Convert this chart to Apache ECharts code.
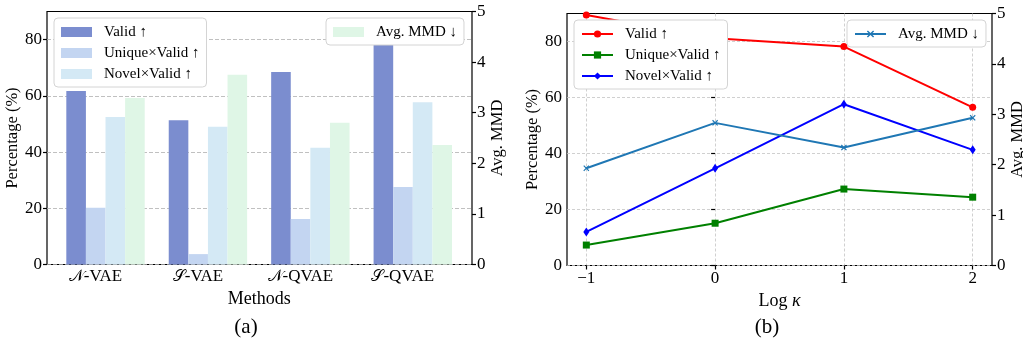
<!DOCTYPE html>
<html><head><meta charset="utf-8">
<script src="https://cdn.jsdelivr.net/npm/echarts@6/dist/echarts.min.js"></script>
<style>html,body{margin:0;padding:0;background:#fff}#c{width:1023px;height:343px}</style>
</head><body><div id="c"></div>
<script>
// ---- data ----
const methods = ['N-VAE', 'S-VAE', 'N-QVAE', 'S-QVAE'];
const barValid = [61.7, 51.3, 68.5, 78.3];
const barUnique = [20.2, 3.7, 16.2, 27.6];
const barNovel = [52.5, 49.0, 41.5, 57.7];
const barMMD = [3.29, 3.75, 2.80, 2.36];
const logKappa = [-1, 0, 1, 2];
const lineValid = [89.5, 81.2, 78.2, 56.5];
const lineUnique = [7.3, 15.1, 27.3, 24.4];
const lineNovel = [12.0, 34.7, 57.6, 41.3];
const lineMMD = [1.93, 2.83, 2.34, 2.93];
const pctTicks = [0, 20, 40, 60, 80];
const mmdTicks = [0, 1, 2, 3, 4, 5];
const kappaTicks = [-1, 0, 1, 2];
const legendLabels = {
  bv: 'Valid ↑', bu: 'Unique×Valid ↑', bn: 'Novel×Valid ↑', bm: 'Avg. MMD ↓',
  lv: 'Valid ↑', lu: 'Unique×Valid ↑', ln: 'Novel×Valid ↑', lm: 'Avg. MMD ↓'
};
const scriptLetters = { N: '𝒩', S: '𝒮' };

// ---- styling ----
const FONT = 'Liberation Serif, DejaVu Serif, serif';
const txt = { fontFamily: FONT, fontSize: 17, color: '#000' };
const nameY = { fontFamily: FONT, fontSize: 16.5, color: '#000' };
const nameX = { fontFamily: FONT, fontSize: 18, color: '#000' };
const tickStyle = { show: true, length: 4, lineStyle: { color: '#000', width: 1.2 } };
const gridDash = { show: true, lineStyle: { color: '#b0b0b0', type: [4, 2], width: 0.8 } };
const gridDot = { show: true, lineStyle: { color: '#c4c4c4', type: [3, 2], width: 0.8 } };
const xMark = 'path://M0,1.4 L1.4,0 L5,3.6 L8.6,0 L10,1.4 L6.4,5 L10,8.6 L8.6,10 L5,6.4 L1.4,10 L0,8.6 L3.6,5 Z';

function pairs(xs, ys) { return xs.map((x, i) => [x, ys[i]]); }
function legendBox(left, top, names, icon, iw, ih) {
  return {
    orient: 'vertical', left: left, top: top, data: names,
    icon: icon, itemWidth: iw, itemHeight: ih, itemGap: 5,
    padding: [6, 7, 5, 7],
    backgroundColor: '#fff', borderColor: '#d4d4d4', borderWidth: 1, borderRadius: 4,
    formatter: n => legendLabels[n],
    textStyle: { fontFamily: FONT, fontSize: 15, color: '#000', lineHeight: 16, padding: [0, 0, 0, 7] }
  };
}

const option = {
  animation: false,
  backgroundColor: '#fff',
  grid: [
    { left: 47, top: 11.5, width: 425, height: 253, show: true, borderColor: '#000', borderWidth: 1.2, outerBoundsMode: 'none' },
    { left: 54.3, top: 11.5, width: 409.7, height: 253, outerBoundsMode: 'none' },
    { left: 567, top: 13.5, width: 425, height: 252, show: true, borderColor: '#000', borderWidth: 1.2, outerBoundsMode: 'none' }
  ],
  xAxis: [
    { gridIndex: 0, type: 'category', data: methods, axisLine: { show: false }, axisTick: { show: false }, axisLabel: { show: false }, splitLine: { show: false } },
    { gridIndex: 1, type: 'category', data: methods, axisLine: { show: false }, axisTick: { show: false },
      axisLabel: { margin: 4, interval: 0, hideOverlap: false, padding: [0, 20, 0, 0], ...txt,
        formatter: v => '{m|' + scriptLetters[v[0]] + '}{t|' + v.slice(1) + '}',
        rich: { m: { fontFamily: 'DejaVu Serif, DejaVu Sans, serif', fontSize: 16, color: '#000' }, t: { ...txt } } },
      name: 'Methods', nameLocation: 'middle', nameGap: 23, nameTextStyle: { ...nameX } },
    { gridIndex: 2, type: 'value', min: -1.15, max: 2.15,
      axisLine: { show: false },
      axisTick: { ...tickStyle, customValues: kappaTicks },
      axisLabel: { ...txt, margin: 5, customValues: kappaTicks, formatter: v => v < 0 ? '\u2212' + (-v) : String(v) },
      splitLine: gridDot,
      name: '{t|Log }{k|κ}', nameLocation: 'middle', nameGap: 23,
      nameTextStyle: { ...nameX, rich: { t: { ...nameX }, k: { ...nameX, fontStyle: 'italic' } } } }
  ],
  yAxis: [
    { gridIndex: 0, type: 'value', min: 0, max: 90, interval: 20, position: 'left',
      axisLine: { show: false },
      axisTick: { ...tickStyle, customValues: pctTicks },
      axisLabel: { ...txt, margin: 5, customValues: pctTicks },
      splitLine: gridDash,
      name: 'Percentage (%)', nameLocation: 'middle', nameRotate: 90, nameGap: 25, nameTextStyle: { ...nameY } },
    { gridIndex: 0, type: 'value', min: 0, max: 5, interval: 1, position: 'right',
      axisLine: { show: false },
      axisTick: { ...tickStyle },
      axisLabel: { ...txt, margin: 5 },
      splitLine: { show: false },
      name: 'Avg. MMD', nameLocation: 'middle', nameRotate: 90, nameGap: 15, nameTextStyle: { ...nameY } },
    { gridIndex: 1, type: 'value', min: 0, max: 90, show: false, splitLine: { show: false } },
    { gridIndex: 1, type: 'value', min: 0, max: 5, show: false, splitLine: { show: false } },
    { gridIndex: 2, type: 'value', min: 0, max: 90, interval: 20, position: 'left',
      axisLine: { show: false },
      axisTick: { ...tickStyle, customValues: pctTicks },
      axisLabel: { ...txt, margin: 5, customValues: pctTicks },
      splitLine: gridDot,
      name: 'Percentage (%)', nameLocation: 'middle', nameRotate: 90, nameGap: 25, nameTextStyle: { ...nameY } },
    { gridIndex: 2, type: 'value', min: 0, max: 5, interval: 1, position: 'right',
      axisLine: { show: false },
      axisTick: { ...tickStyle },
      axisLabel: { ...txt, margin: 5 },
      splitLine: { show: false },
      name: 'Avg. MMD', nameLocation: 'middle', nameRotate: 90, nameGap: 14, nameTextStyle: { ...nameY } }
  ],
  legend: [
    legendBox(54, 18, ['bv', 'bu', 'bn'], 'rect', 31, 10),
    legendBox(326, 18, ['bm'], 'rect', 31, 10),
    legendBox(574, 20, ['lv', 'lu', 'ln'], null, 31, 9),
    legendBox(847, 20, ['lm'], null, 31, 9)
  ],
  series: [
    { name: 'bv', type: 'bar', xAxisIndex: 1, yAxisIndex: 2, data: barValid, barWidth: 19.6, barGap: '0%', itemStyle: { color: '#7b8dcf' } },
    { name: 'bu', type: 'bar', xAxisIndex: 1, yAxisIndex: 2, data: barUnique, barWidth: 19.6, barGap: '0%', itemStyle: { color: '#c3d5f1' } },
    { name: 'bn', type: 'bar', xAxisIndex: 1, yAxisIndex: 2, data: barNovel, barWidth: 19.6, barGap: '0%', itemStyle: { color: '#d4e9f5' } },
    { name: 'bm', type: 'bar', xAxisIndex: 1, yAxisIndex: 3, data: barMMD, barWidth: 19.6, barGap: '0%', itemStyle: { color: '#dff6e6' } },
    { name: 'lv', type: 'line', xAxisIndex: 2, yAxisIndex: 4, data: pairs(logKappa, lineValid),
      symbol: 'circle', symbolSize: 7, lineStyle: { color: '#ff0000', width: 2 }, itemStyle: { color: '#ff0000' } },
    { name: 'lu', type: 'line', xAxisIndex: 2, yAxisIndex: 4, data: pairs(logKappa, lineUnique),
      symbol: 'rect', symbolSize: 7, lineStyle: { color: '#008000', width: 2 }, itemStyle: { color: '#008000' } },
    { name: 'ln', type: 'line', xAxisIndex: 2, yAxisIndex: 4, data: pairs(logKappa, lineNovel),
      symbol: 'diamond', symbolSize: [6, 9], lineStyle: { color: '#0000ff', width: 2 }, itemStyle: { color: '#0000ff' } },
    { name: 'lm', type: 'line', xAxisIndex: 2, yAxisIndex: 5, data: pairs(logKappa, lineMMD),
      symbol: xMark, symbolSize: 6, lineStyle: { color: '#1f77b4', width: 2 }, itemStyle: { color: '#1f77b4' } }
  ],
  graphic: [
    { type: 'text', x: 246, y: 327, style: { text: '(a)', font: '21px ' + FONT, fill: '#000', align: 'center', verticalAlign: 'middle', textAlign: 'center', textVerticalAlign: 'middle' } },
    { type: 'text', x: 767, y: 327, style: { text: '(b)', font: '21px ' + FONT, fill: '#000', align: 'center', verticalAlign: 'middle', textAlign: 'center', textVerticalAlign: 'middle' } }
  ]
};
const chart = echarts.init(document.getElementById('c'), null, { renderer: 'canvas' });
chart.setOption(option);
</script></body></html>
